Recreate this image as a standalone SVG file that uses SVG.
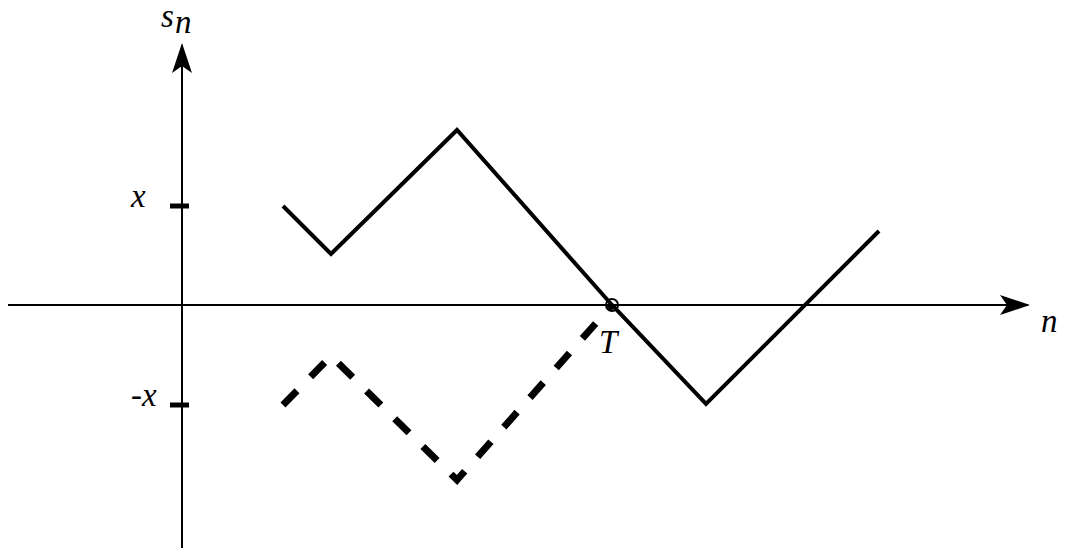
<svg xmlns="http://www.w3.org/2000/svg" width="1066" height="550" viewBox="0 0 1066 550">
<style>
.ax{stroke:#000;stroke-width:2;fill:none}
.tick{stroke:#000;stroke-width:5}
.sol{stroke:#000;stroke-width:4;fill:none}
.dash{stroke:#000;stroke-width:7;fill:none;stroke-dasharray:20 19.5}
</style>
<defs>
<marker id="ah" viewBox="0 0 30 20" refX="28" refY="10" markerWidth="30" markerHeight="20" markerUnits="userSpaceOnUse" orient="auto">
<path d="M0,0 L30,10 L0,20 L7,10 Z" fill="#000"/>
</marker>
</defs>
<g id="axes">
<line class="ax" x1="182" y1="548" x2="182" y2="45" marker-end="url(#ah)"/>
<line class="ax" x1="8" y1="305" x2="1028" y2="305" marker-end="url(#ah)"/>
<line class="tick" x1="170" y1="206" x2="189" y2="206"/>
<line class="tick" x1="170" y1="405" x2="189" y2="405"/>
</g>
<g id="labels" font-family="'Liberation Serif', 'Times New Roman', serif" font-style="italic" font-size="33" fill="#000">
<text x="161" y="27">s</text>
<text x="175" y="33">n</text>
<text x="131" y="207">x</text>
<text x="131" y="406">-x</text>
<text x="599" y="353">T</text>
<text x="1041" y="332">n</text>
</g>
<g id="connectors">
<polyline id="solid" class="sol" points="283,206 331,254 457,130 612,305 706,404 879,231"/>
<polyline id="dashed" class="dash" points="283,405 331,356 457,480 612,305"/>
<circle id="T-point" cx="612" cy="305" r="6" fill="none" stroke="#000" stroke-width="2"/>
</g>
</svg>
